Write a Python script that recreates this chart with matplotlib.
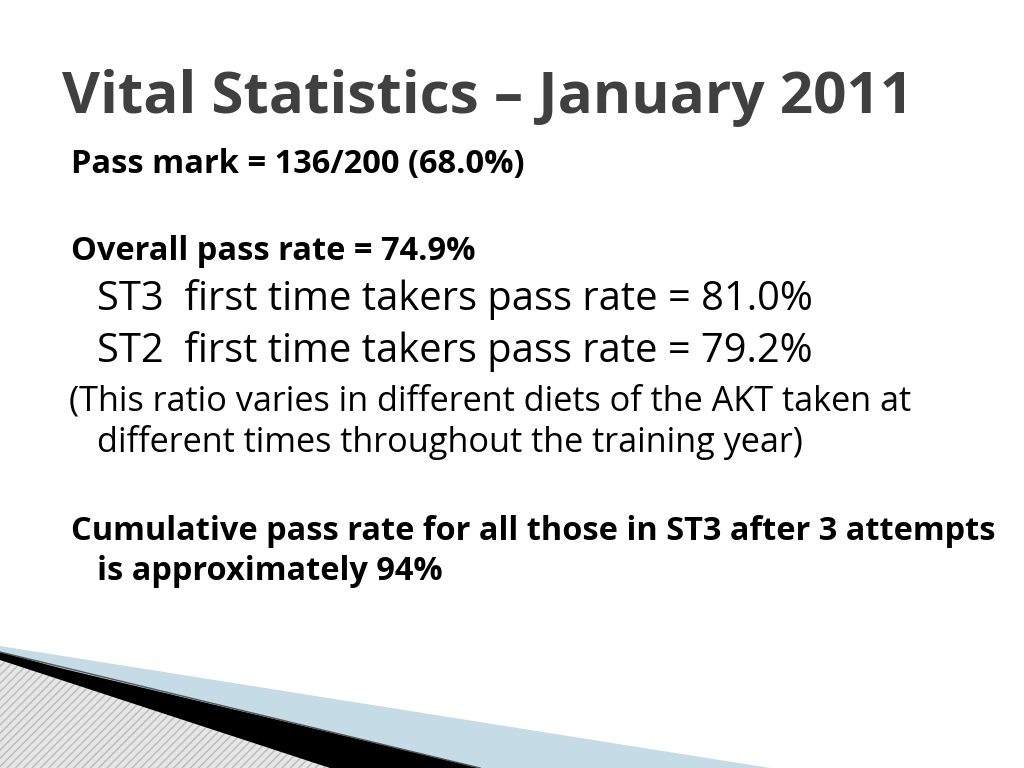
import matplotlib
matplotlib.use("Agg")
import matplotlib.pyplot as plt
from matplotlib.patches import Polygon

title = "Vital Statistics – January 2011"
lines = [
    ("Pass mark = 136/200 (68.0%)", 71, 165, 17, "bold", 1.38),
    ("Overall pass rate = 74.9%", 71, 252, 17, "bold", 1.38),
    ("ST3  first time takers pass rate = 81.0%", 97, 300, 24, "normal", 1.195),
    ("ST2  first time takers pass rate = 79.2%", 97, 352, 24, "normal", 1.195),
    ("(This ratio varies in different diets of the AKT taken at", 69, 402, 19.5, "normal", 1.265),
    ("different times throughout the training year)", 97, 442, 19.5, "normal", 1.265),
    ("Cumulative pass rate for all those in ST3 after 3 attempts", 71, 532, 19.5, "bold", 1.2),
    ("is approximately 94%", 97, 572, 19.5, "bold", 1.2),
]

fig = plt.figure(figsize=(10.24, 7.68), dpi=100)
ax = fig.add_axes([0, 0, 1, 1])
ax.set_xlim(0, 1024)
ax.set_ylim(768, 0)
ax.axis("off")
fam = ["Open Sans", "DejaVu Sans"]

ax.text(62, 98, title, fontsize=42, fontweight="bold", color="#404040",
        family=fam, va="center", ha="left")
for s, x, y, fs, w, k in lines:
    ax.text(x, y, s, fontsize=fs * k, fontweight=w, color="black", family=fam,
            va="center", ha="left")

# decoration
ax.add_patch(Polygon([(0, 646), (770, 768), (480, 768), (0, 656)],
                     closed=True, fc="#c5dbe6", ec="none"))
ax.add_patch(Polygon([(0, 656), (470, 768), (0, 768)], closed=True,
                     fc="#e6e6e6", ec="#bbbbbb", hatch="////", lw=0))
ax.add_patch(Polygon([(0, 652), (60, 668), (480, 768), (330, 768), (0, 660)],
                     closed=True, fc="black", ec="none"))
ax.plot([0, 480], [652, 768], color="#555555", lw=1)

fig.savefig("out.png", dpi=100)
